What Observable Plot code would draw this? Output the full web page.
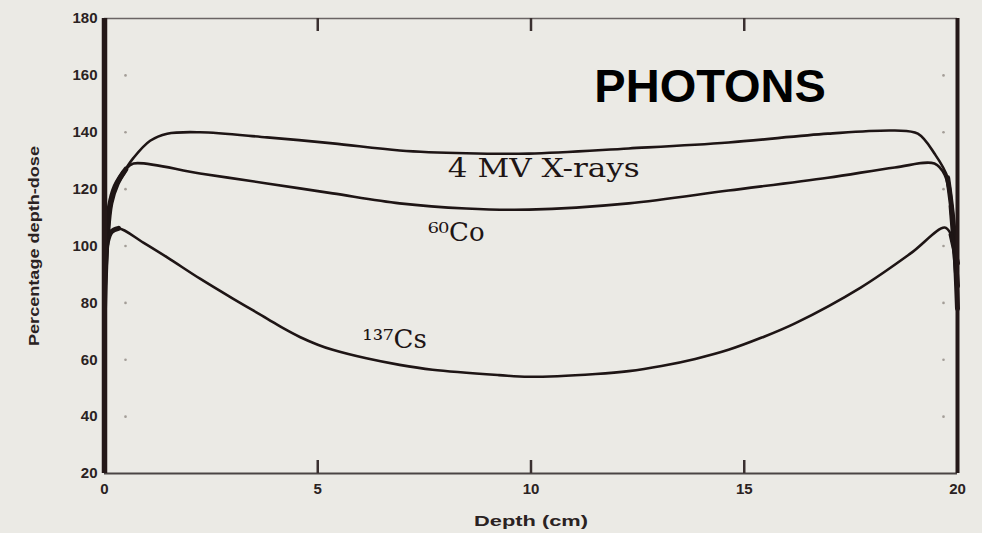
<!DOCTYPE html>
<html>
<head>
<meta charset="utf-8">
<script src="https://cdn.jsdelivr.net/npm/d3@7"></script>
<script src="https://cdn.jsdelivr.net/npm/@observablehq/plot@0.6"></script>
<style>
  html, body { margin: 0; padding: 0; background: #ebeae5; }
  #chart svg { display: block; }
</style>
</head>
<body>
<div id="chart"></div>
<script>
// ---- Data ----
const seriesNames = ["4 MV X-rays", "60Co", "137Cs"];

const depth4MV = [0, 0.05, 0.12, 0.25, 0.45, 0.68, 1.07, 1.47, 2.24, 3.81, 5.35, 6.92, 8.48, 9.95, 12.29, 14.63, 16.96, 18.53, 19.07, 19.46, 19.77, 19.9, 20];
const pdd4MV   = [78, 100, 114, 121, 126, 131, 137, 139.5, 140, 138.2, 136.1, 133.6, 132.6, 132.5, 134.3, 136.4, 139.5, 140.6, 139.5, 132.5, 124, 108, 78];

const depthCo = [0, 0.06, 0.15, 0.3, 0.5, 0.68, 2.24, 3.81, 5.35, 6.92, 8.48, 9.95, 12.29, 14.63, 16.96, 18.53, 19.46, 19.7, 19.85, 20];
const pddCo   = [86, 102, 115, 122, 127, 129, 125.5, 122, 118.5, 115, 113.2, 112.8, 115, 119.5, 124, 127.6, 129, 125, 114, 86];

const depthCs = [0, 0.06, 0.16, 0.33, 0.91, 1.47, 2.24, 3.01, 3.81, 4.2, 4.58, 5.0, 5.35, 6.14, 6.92, 7.69, 9.25, 9.95, 11.52, 12.29, 13.06, 13.85, 14.63, 15.41, 16.19, 17.73, 18.9, 19.7, 19.85, 20];
const pddCs   = [94, 101, 105, 106.2, 101.2, 96, 88.5, 81.5, 74.5, 71, 68, 65.3, 63.5, 60.5, 58.2, 56.5, 54.6, 54, 55, 56, 57.8, 60.3, 63.5, 67.8, 72.8, 85.4, 97.4, 106.5, 104, 94];

const xTicks = [0, 5, 10, 15, 20];
const xInnerTicks = [5, 10, 15];
const yTicks = [20, 40, 60, 80, 100, 120, 140, 160, 180];

const xLabel = "Depth (cm)";
const yLabel = "Percentage depth-dose";

// annotation texts and their anchor in data units
const labelTexts = ["4 MV X-rays", "⁶⁰Co", "¹³⁷Cs"];
const labelDepths = [10.3, 8.25, 6.8];
const labelPdds = [127.2, 104.8, 67.1];
const titleText = "PHOTONS";
const titleDepth = [14.2];
const titlePdd = [156];

// ---- Build tables ----
const seriesData = [
  {name: seriesNames[0], depth: depth4MV, pdd: pdd4MV},
  {name: seriesNames[1], depth: depthCo, pdd: pddCo},
  {name: seriesNames[2], depth: depthCs, pdd: pddCs}
];
const rows = seriesData.flatMap(s => s.depth.map((d, i) => ({series: s.name, depth: d, pdd: s.pdd[i]})));
const labels = labelTexts.map((t, i) => ({text: t, depth: labelDepths[i], pdd: labelPdds[i]}));
const titles = [{text: titleText, depth: titleDepth[0], pdd: titlePdd[0]}];
// the dense build-up region at each surface is inked heavily in the scan
const buildUpLeft = rows.filter(r => r.depth <= 0.5);
const buildUpRight = rows.filter(r => r.depth >= 19.75);

// ---- Layout ----
const W = 982, H = 533;
const mL = 104, mR = 25, mT = 18, mB = 60;
const innerH = H - mT - mB;
const ink = "#1e1515";
const bg = "#ebeae5";

const chart = Plot.plot({
  width: W, height: H,
  marginLeft: mL, marginRight: mR, marginTop: mT, marginBottom: mB,
  style: {background: bg, fontFamily: "'Liberation Sans', Arial, sans-serif", color: "#2a2222", overflow: "visible"},
  x: {domain: [0, 20]},
  y: {domain: [20, 180]},
  marks: [
    Plot.ruleY([yTicks[yTicks.length - 1]], {stroke: "#6a6464", strokeWidth: 1.5}),
    Plot.ruleY([yTicks[0]], {stroke: "#4a4444", strokeWidth: 1.8}),
    Plot.tickX(xInnerTicks, {x: d => d, insetTop: innerH - 13, stroke: "#3a3030", strokeWidth: 2.5}),
    Plot.tickX(xInnerTicks, {x: d => d, insetBottom: innerH - 13, stroke: "#3a3030", strokeWidth: 2.5}),
    Plot.dot(yTicks.slice(1, -1), {y: d => d, frameAnchor: "left", dx: 21, r: 1.3, fill: "#a39d97"}),
    Plot.dot(yTicks.slice(1, -1), {y: d => d, frameAnchor: "right", dx: -14, r: 1.3, fill: "#a39d97"}),
    Plot.line(rows, {x: "depth", y: "pdd", z: "series", curve: "catmull-rom", stroke: ink, strokeWidth: 2.6}),
    Plot.line(buildUpLeft, {x: "depth", y: "pdd", z: "series", curve: "catmull-rom", stroke: ink, strokeWidth: 5}),
    Plot.line(buildUpRight, {x: "depth", y: "pdd", z: "series", curve: "catmull-rom", stroke: ink, strokeWidth: 5}),
    Plot.ruleX([xTicks[0]], {stroke: "#241818", strokeWidth: 5.5}),
    Plot.ruleX([xTicks[xTicks.length - 1]], {stroke: "#241818", strokeWidth: 4}),
    Plot.axisX({ticks: xTicks, tickSize: 0, tickPadding: 10, fontSize: 15, fontWeight: "bold",
      label: xLabel, labelAnchor: "center", labelOffset: 52, tickFormat: d => String(d)}),
    Plot.axisY({ticks: yTicks, tickSize: 0, tickPadding: 7, fontSize: 15, fontWeight: "bold",
      label: yLabel, labelAnchor: "center", labelOffset: 75, tickFormat: d => String(d)}),
    Plot.text(labels, {x: "depth", y: "pdd", text: "text", fontFamily: "'DejaVu Serif', serif", fontSize: 26, fill: ink, className: "curve-label"}),
    Plot.text(titles, {x: "depth", y: "pdd", text: "text", fontFamily: "'Liberation Sans', Arial, sans-serif", fontWeight: "bold", fontSize: 47, fill: "#000"})
  ]
});

document.getElementById("chart").appendChild(chart);

// style axis labels (no arrows, wide bold lettering as in the scan)
const svg = d3.select(chart);
svg.selectAll("[aria-label='x-axis label'] text")
  .text(xLabel)
  .style("font-size", "15px").style("font-weight", "bold")
  .attr("textLength", 114).attr("lengthAdjust", "spacingAndGlyphs");
svg.selectAll("[aria-label='y-axis label'] text")
  .text(yLabel)
  .style("font-size", "14px").style("font-weight", "bold")
  .attr("textLength", 200).attr("lengthAdjust", "spacingAndGlyphs");
svg.selectAll(".curve-label text").filter((d, i) => i === 0)
  .attr("textLength", 192).attr("lengthAdjust", "spacingAndGlyphs");
</script>
</body>
</html>
